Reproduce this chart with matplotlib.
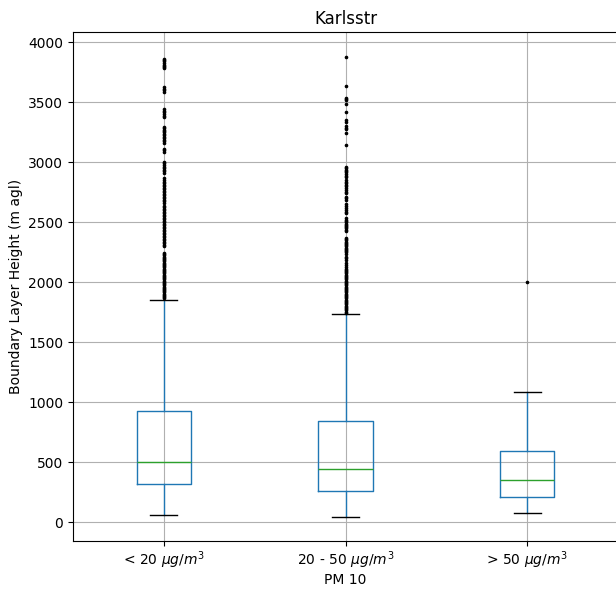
import matplotlib
matplotlib.use("Agg")
import matplotlib.pyplot as plt

# PM10 concentration classes
categories = ["< 20 $\\mu g/m^3$", "20 - 50 $\\mu g/m^3$", "> 50 $\\mu g/m^3$"]

# Boundary layer height summary statistics (m agl) per class
q1 = [317, 264, 213]
medians = [502, 444, 352]
q3 = [927, 847, 594]
whisker_low = [63, 42, 75]
whisker_high = [1855, 1735, 1088]

# Outlying boundary layer heights
fliers_low_pm = [
    3865, 3855, 3845, 3830, 3815, 3805, 3795, 3785,
    3625, 3610, 3600, 3590,
    3445, 3430, 3420, 3400, 3390, 3380,
    3295, 3285, 3270, 3260, 3250, 3240, 3230, 3215, 3205, 3190, 3175, 3160,
    3115, 3100, 3090,
    3005, 2995, 2980, 2965, 2950, 2940, 2925, 2910,
    2870, 2855, 2840, 2830, 2815, 2805, 2790, 2780, 2765, 2755, 2740,
    2730, 2715, 2700, 2690, 2675, 2665, 2640, 2625, 2615, 2600, 2590,
    2575, 2565, 2550, 2540, 2525, 2515, 2500, 2490, 2475, 2465, 2450,
    2440, 2425, 2415, 2400, 2390, 2375, 2365, 2350, 2340, 2325, 2310, 2300,
    2245, 2235, 2225, 2215, 2205, 2195, 2185, 2175, 2165, 2155, 2145,
    2135, 2125, 2115, 2105, 2095, 2085, 2075, 2065, 2055, 2045, 2035,
    2025, 2015, 2005, 1995, 1985, 1975, 1965, 1955, 1945, 1935, 1925,
    1915, 1905, 1895, 1885, 1875, 1865,
]
fliers_mid_pm = [
    3880, 3635, 3540, 3530, 3520, 3490, 3420, 3350, 3340, 3300, 3290, 3280,
    3245, 3145,
    2965, 2950, 2940, 2930, 2920, 2905, 2890, 2880, 2850, 2835, 2825,
    2810, 2800, 2785, 2770, 2755, 2745, 2710, 2700, 2690, 2650, 2635,
    2620, 2605, 2590, 2580, 2535, 2520, 2510, 2500, 2490, 2480, 2470,
    2460, 2450, 2435, 2425, 2370, 2360, 2350, 2340, 2330, 2320, 2310,
    2300, 2290, 2280, 2270, 2260, 2250, 2240, 2215, 2200, 2190, 2160,
    2145, 2125, 2115, 2105, 2095, 2085, 2075, 2065, 2055, 2045, 2035,
    2025, 2015, 2005, 1995, 1985, 1975, 1965, 1955, 1945, 1935, 1925,
    1915, 1905, 1895, 1885, 1875, 1865, 1855, 1845, 1835, 1825, 1815,
    1805, 1795, 1785, 1775, 1765, 1755, 1745,
]
fliers_high_pm = [2005]
fliers = [fliers_low_pm, fliers_mid_pm, fliers_high_pm]

stats = []
for i, label in enumerate(categories):
    stats.append(dict(label=label, med=medians[i], q1=q1[i], q3=q3[i],
                      whislo=whisker_low[i], whishi=whisker_high[i],
                      fliers=fliers[i]))

fig = plt.figure(figsize=(6.16, 5.90), dpi=100)
ax = fig.add_axes([73 / 616, 49 / 590, 545 / 616, 509 / 590])

ax.bxp(
    stats,
    positions=[1, 2, 3],
    widths=0.3,
    boxprops=dict(color="#1f77b4"),
    whiskerprops=dict(color="#1f77b4"),
    medianprops=dict(color="#2ca02c"),
    capprops=dict(color="black"),
    flierprops=dict(marker="o", markersize=1.6, markerfacecolor="black",
                    markeredgecolor="black", linestyle="none"),
)

ax.grid(True, color="#b0b0b0", linewidth=0.8)
ax.set_axisbelow(True)
ax.set_xlim(0.5, 3.5)
ax.set_ylim(-156, 4086)
ax.set_yticks([0, 500, 1000, 1500, 2000, 2500, 3000, 3500, 4000])
ax.tick_params(axis="x", pad=2.5)
ax.set_title("Karlsstr")
ax.set_xlabel("PM 10", labelpad=1.5)
ax.set_ylabel("Boundary Layer Height (m agl)")

fig.savefig("out.png", dpi=100)
